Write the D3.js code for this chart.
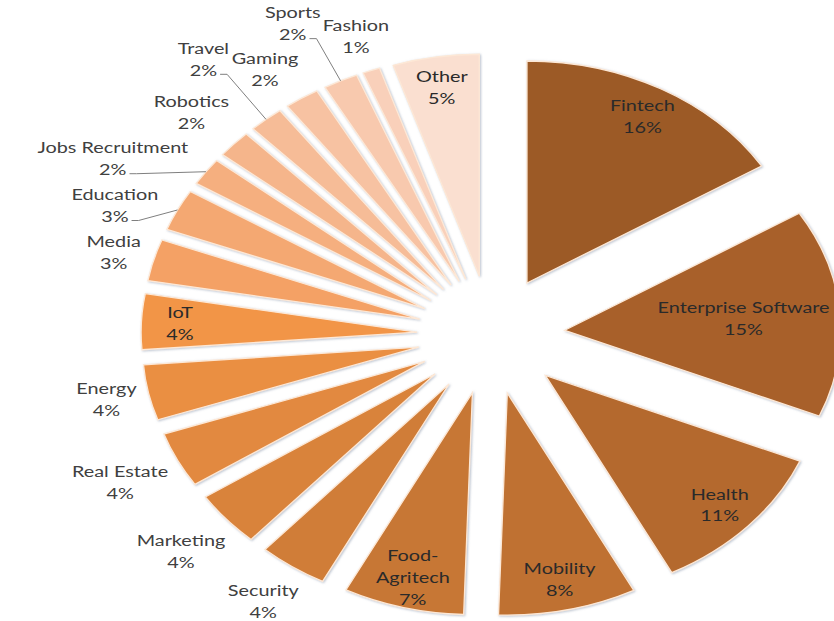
<!DOCTYPE html>
<html>
<head>
<meta charset="utf-8">
<script src="https://cdn.jsdelivr.net/npm/d3@7"></script>
<style>
  html, body { margin: 0; padding: 0; background: #ffffff; }
  svg { display: block; }
</style>
</head>
<body>
<svg id="chart" width="834" height="621"></svg>
<script>
// Startup funding by sector, share of total (%)
const categories = ["Fintech", "Enterprise Software", "Health", "Mobility", "Food-Agritech",
  "Security", "Marketing", "Real Estate", "Energy", "IoT", "Media", "Education",
  "Jobs Recruitment", "Robotics", "Travel", "Gaming", "Sports", "Fashion", "Other"];
const shares = [16, 15, 11, 8, 7, 4, 4, 4, 4, 4, 3, 3, 2, 2, 2, 2, 2, 1, 5];

// Slice colours, dark brown through orange to pale peach
const sliceColors = ["#9c5a25", "#a8612a", "#b4692e", "#bf7131", "#c77734", "#d07d37",
  "#d9833b", "#e2893f", "#ea8f43", "#f29547", "#f4a165", "#f4a872", "#f5af7f", "#f5b58b",
  "#f6bc97", "#f7c2a2", "#f8c9ae", "#f9d0ba", "#fadfd0"];

// Sectors whose label sits inside the slice
const insideLabels = ["Fintech", "Enterprise Software", "Health", "Mobility", "Food-Agritech", "IoT", "Other"];

const W = 834, H = 621;
const cx = 491, cy = 335, rx = 276, ry = 222, explode = 0.268;
const fontSize = 16, lineH = 22, stretch = 1.24;

const svg = d3.select("#chart");
const data = categories.map((name, i) => ({ name, value: shares[i], color: sliceColors[i] }));
const arcs = d3.pie().value(d => d.value).sort(null)(data);

const R = ry, sx = rx / ry;
const arc = d3.arc().innerRadius(0).outerRadius(R);
const mid = d => (d.startAngle + d.endAngle) / 2;
const origin = d => { const m = mid(d); return [cx + rx * explode * Math.sin(m), cy - ry * explode * Math.cos(m)]; };
const onSlice = (d, a, r) => { const o = origin(d); return [o[0] + rx * r * Math.sin(a), o[1] - ry * r * Math.cos(a)]; };

// soft shadow under each wedge
const defs = svg.append("defs");
const f = defs.append("filter").attr("id", "wedgeShadow").attr("x", "-10%").attr("y", "-10%").attr("width", "120%").attr("height", "120%");
f.append("feDropShadow").attr("dx", 0.8).attr("dy", 0.8).attr("stdDeviation", 1)
  .attr("flood-color", "#7f8fa6").attr("flood-opacity", 0.55);

const pieG = svg.append("g").attr("transform", `translate(${cx},${cy}) scale(${sx},1)`);
pieG.selectAll("path").data(arcs).join("path")
  .attr("transform", d => { const m = mid(d); return `translate(${R * explode * Math.sin(m)},${-R * explode * Math.cos(m)})`; })
  .attr("d", arc)
  .attr("fill", d => d.data.color)
  .attr("stroke", "#fde8d6")
  .attr("stroke-width", 1.3)
  .attr("vector-effect", "non-scaling-stroke")
  .attr("filter", "url(#wedgeShadow)");

// ---- labels ----
const leaderG = svg.append("g");
const labelG = svg.append("g").attr("font-family", "Lato, 'Open Sans', sans-serif").attr("font-size", fontSize);

arcs.forEach(d => {
  const name = d.data.name;
  const inside = insideLabels.includes(name);
  const nameLines = (inside && name.includes("-")) ? [name.slice(0, name.indexOf("-") + 1), name.slice(name.indexOf("-") + 1)] : [name];
  const lines = nameLines.concat([d.data.value + "%"]);
  const g = labelG.append("g");
  const t = g.append("text").attr("text-anchor", "middle")
    .attr("fill", inside ? "#2a2a2a" : "#404040")
    .attr("transform", `scale(${stretch},1)`);
  lines.forEach((s, i) => t.append("tspan").attr("x", 0)
    .attr("y", (i - (lines.length - 1) / 2) * lineH).attr("dy", "0.35em").text(s));
  const widths = t.selectAll("tspan").nodes().map(n => n.getComputedTextLength() * stretch);
  d.label = { g, lines, widths, w: d3.max(widths), h: lines.length * lineH, inside };
});

// inside labels: along the bisector, pulled inward if they would leave the canvas
arcs.filter(d => d.label.inside).forEach(d => {
  const m = mid(d), L = d.label;
  let r = 0.86, p = onSlice(d, m, r);
  while (r > 0.3 && (p[0] + L.w / 2 > W - 2 || p[0] - L.w / 2 < 2)) { r -= 0.01; p = onSlice(d, m, r); }
  L.g.attr("transform", `translate(${p[0]},${p[1]})`);
});

// point lies on some exploded wedge?
function onPie(x, y) {
  const u = (x - cx) / rx, v = (y - cy) / ry;
  let a = Math.atan2(u, -v); if (a < 0) a += 2 * Math.PI;
  const d = arcs.find(s => a >= s.startAngle && a < s.endAngle) || arcs[arcs.length - 1];
  const o = origin(d);
  return Math.hypot((x - o[0]) / rx, (y - o[1]) / ry) < 1.03;
}
function boxHitsPie(b) {
  for (let i = 0; i <= 4; i++) {
    const x = b.x0 + (b.x1 - b.x0) * i / 4, y = b.y0 + (b.y1 - b.y0) * i / 4;
    if (onPie(x, b.y0) || onPie(x, b.y1) || onPie(b.x0, y) || onPie(b.x1, y)) return true;
  }
  return false;
}
const overlap = (a, b) => a.x0 < b.x1 + 2 && b.x0 < a.x1 + 2 && a.y0 < b.y1 + 2 && b.y0 < a.y1 + 2;
const boxDist = (b, p) => Math.hypot(Math.max(b.x0 - p[0], 0, p[0] - b.x1), Math.max(b.y0 - p[1], 0, p[1] - b.y1));

// outside labels: set beside the arc, nudged outward / sideways to avoid collisions
const placed = [];
arcs.filter(d => !d.label.inside).reverse().forEach(d => {
  const m = mid(d), L = d.label;
  const P = onSlice(d, m, 1);
  let dx = rx * Math.sin(m), dy = -ry * Math.cos(m);
  const len = Math.hypot(dx, dy); dx /= len; dy /= len;
  const px = -dy, py = dx;
  const t0 = Math.min(L.w / 2 / Math.max(Math.abs(dx), 1e-6), L.h / 2 / Math.max(Math.abs(dy), 1e-6)) + 7;
  let best = null;
  for (let t = 0; t <= 170; t++) {
    for (let s = -60; s <= 60; s++) {
      const cost = t + 2 * Math.abs(s);
      if (best && cost >= best.cost) continue;
      const x = P[0] + dx * (t0 + t) + px * s, y = P[1] + dy * (t0 + t) + py * s;
      const b = { x0: x - L.w / 2, x1: x + L.w / 2, y0: y - L.h / 2, y1: y + L.h / 2 };
      if (b.x0 < 2 || b.x1 > W - 2 || b.y0 < 0 || b.y1 > H + 4) continue;
      if (placed.some(q => overlap(b, q))) continue;
      if (boxHitsPie(b)) continue;
      best = { cost, x, y, b };
    }
  }
  if (!best) { const x = P[0] + dx * t0, y = P[1] + dy * t0; best = { x, y, b: { x0: x - L.w / 2, x1: x + L.w / 2, y0: y - L.h / 2, y1: y + L.h / 2 } }; }
  placed.push(best.b);
  L.g.attr("transform", `translate(${best.x},${best.y})`);
  // leader line when the label ends up clear of its wedge
  if (boxDist(best.b, P) > 14) {
    const li = L.lines.length - 1;
    const side = dx < 0 ? 1 : -1;
    const sx0 = best.x + side * (L.widths[li] / 2 + 3);
    const sy0 = best.y + (li - (L.lines.length - 1) / 2) * lineH + 4;
    leaderG.append("path")
      .attr("d", `M${sx0},${sy0}L${sx0 + side * 7},${sy0}L${P[0]},${P[1]}`)
      .attr("fill", "none").attr("stroke", "#7f7f7f").attr("stroke-width", 1);
  }
});
</script>
</body>
</html>
